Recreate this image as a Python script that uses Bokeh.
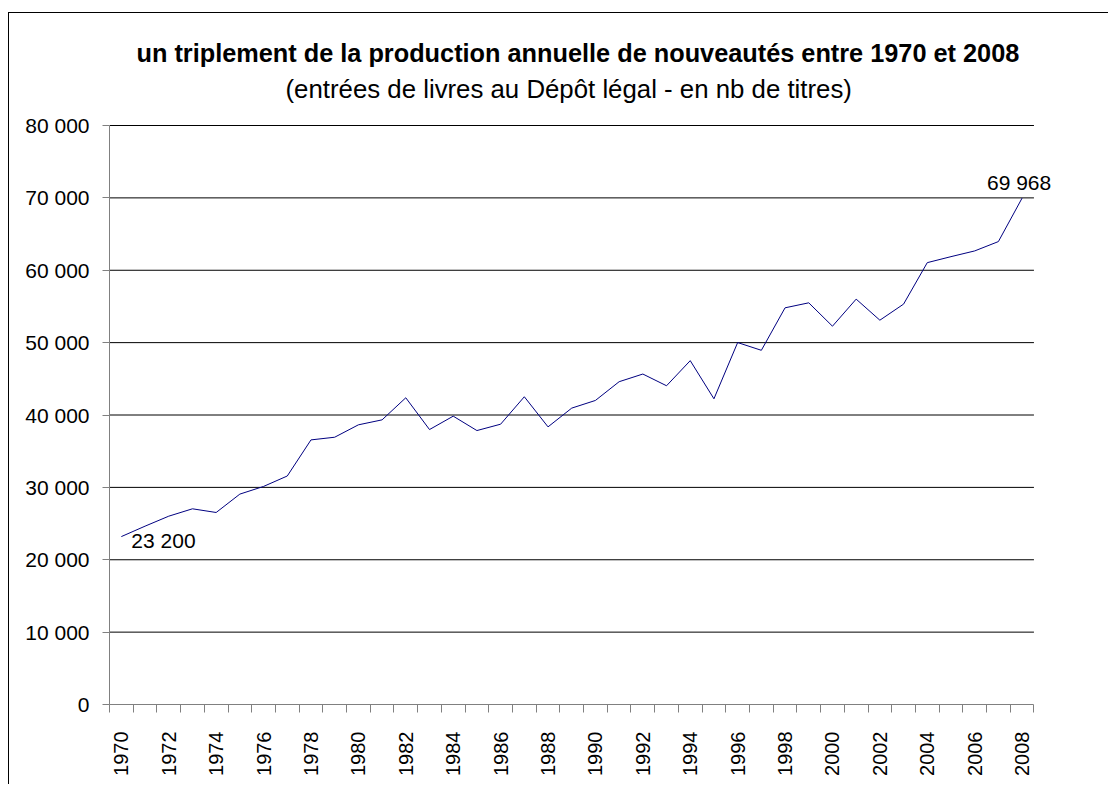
import math
from bokeh.plotting import figure
from bokeh.models import Range1d, FixedTicker, Label
from bokeh.embed import file_html
from bokeh.resources import INLINE

# ---- data ----
years = list(range(1970, 2009))
nb_titres = [23200, 24640, 26020, 27040, 26530, 29070, 30130, 31570, 36560, 36930,
             38640, 39330, 42380, 37990, 39840, 37850, 38730, 42520, 38360, 40950,
             42010, 44600, 45660, 44040, 47510, 42240, 50010, 48940, 54810, 55500,
             52270, 56010, 53100, 55320, 61050, 61880, 62670, 63960, 69968]
y_ticks = [0, 10000, 20000, 30000, 40000, 50000, 60000, 70000, 80000]
x_label_years = years[::2]
title_main = "un triplement de la production annuelle de nouveautés entre 1970 et 2008"
title_sub = "(entrées de livres au Dépôt légal - en nb de titres)"

FONT = "Liberation Sans"


def fmt(v):
    return f"{v:,}".replace(",", " ")


x_lo, x_hi = years[0] - 0.5, years[-1] + 0.5

# the frame covers the whole canvas area above the axes: head room above the
# top tick holds the titles, room right of the last year holds its label
p = figure(width=1100, height=772,
           x_range=Range1d(x_lo, years[-1] + 2),
           y_range=Range1d(y_ticks[0], y_ticks[-1] + 15475),
           output_backend="svg", toolbar_location=None, title=None,
           min_border_left=100, min_border_right=40,
           min_border_top=0, min_border_bottom=81)
p.styles = {"border-left": "1px solid #000", "border-top": "1px solid #000",
            "margin-top": "12px", "margin-left": "8px"}
p.outline_line_color = None
p.background_fill_color = "white"
p.border_fill_color = "white"

# titles
p.add_layout(Label(x=x_lo, y=y_ticks[-1], text=title_main, x_offset=27, y_offset=73,
                   text_align="left", text_baseline="middle", text_font=FONT,
                   text_font_size="25.3px", text_font_style="bold",
                   text_color="black", level="overlay"))
p.add_layout(Label(x=x_lo, y=y_ticks[-1], text=title_sub, x_offset=176, y_offset=37,
                   text_align="left", text_baseline="middle", text_font=FONT,
                   text_font_size="25.8px", text_font_style="normal",
                   text_color="black", level="overlay"))

# horizontal grid lines, limited to the category span
p.xgrid.visible = False
p.ygrid.visible = False
p.segment(x0=[x_lo] * (len(y_ticks) - 1), y0=y_ticks[1:],
          x1=[x_hi] * (len(y_ticks) - 1), y1=y_ticks[1:],
          line_color="black", line_width=1, level="underlay")

# y axis
ya = p.yaxis[0]
ya.ticker = FixedTicker(ticks=y_ticks)
ya.major_label_overrides = {t: fmt(t) for t in y_ticks}
ya.bounds = (y_ticks[0], y_ticks[-1])
ya.major_tick_out = 7
ya.major_tick_in = 0
ya.minor_tick_out = 0
ya.minor_tick_in = 0
ya.axis_line_color = "#808080"
ya.major_tick_line_color = "#808080"
ya.major_label_text_font = FONT
ya.major_label_text_font_size = "21px"
ya.major_label_text_color = "black"
ya.major_label_standoff = 13

# x axis
xa = p.xaxis[0]
xa.ticker = FixedTicker(ticks=x_label_years,
                        minor_ticks=[y - 0.5 for y in years] + [x_hi])
xa.major_label_overrides = {y: str(y) for y in x_label_years}
xa.bounds = (x_lo, x_hi)
xa.major_tick_out = 0
xa.major_tick_in = 0
xa.minor_tick_out = 8
xa.minor_tick_in = 0
xa.axis_line_color = "#808080"
xa.minor_tick_line_color = "#808080"
xa.major_label_orientation = math.pi / 2
xa.major_label_text_font = FONT
xa.major_label_text_font_size = "20px"
xa.major_label_text_color = "black"
xa.major_label_standoff = 19

# series
p.line(years, nb_titres, line_color="#000080", line_width=1)

# data labels
p.add_layout(Label(x=years[0], y=nb_titres[0], text=fmt(nb_titres[0]),
                   x_offset=10, y_offset=-4, text_align="left",
                   text_baseline="middle", text_font=FONT,
                   text_font_size="21px", text_color="black", level="overlay"))
p.add_layout(Label(x=years[-1], y=nb_titres[-1], text=fmt(nb_titres[-1]),
                   x_offset=-3, y_offset=16, text_align="center",
                   text_baseline="middle", text_font=FONT,
                   text_font_size="21px", text_color="black", level="overlay"))

open("out.html", "w").write(file_html(p, INLINE))
